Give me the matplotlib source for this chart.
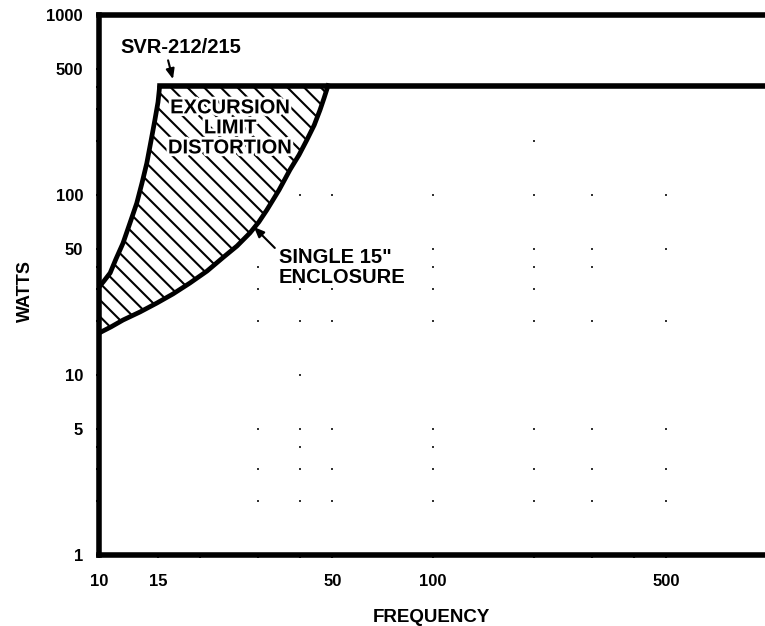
import matplotlib
matplotlib.use("Agg")
import matplotlib.pyplot as plt
import matplotlib.patheffects as pe

plt.rcParams['font.family'] = ['Liberation Sans', 'DejaVu Sans']
plt.rcParams['font.weight'] = 'bold'
plt.rcParams['hatch.linewidth'] = 1.5

# --- data ---
svr_freq = [10, 10.35, 10.8, 11.24, 11.8, 12.38, 12.97, 13.45, 13.9, 14.31,
            14.7, 15.02, 15.2]
svr_watts = [30.8, 33.3, 36.9, 44.1, 54, 69.9, 90, 116.6, 150, 199.5,
             261, 328, 405]

single_freq = [10, 10.86, 11.8, 13.27, 14.9, 16.65, 18.7, 21.06, 23.6, 25.9,
               28.3, 30.1, 31.8, 34.6, 37.3, 39.7, 41.9, 44.1, 45.9, 47.2, 48.5]
single_watts = [17.1, 18.5, 20.2, 22.4, 25.1, 28.2, 32.4, 37.8, 45.2, 52.1,
                61.5, 70.8, 82.5, 106.6, 138, 166.8, 202, 244.7, 297, 346, 405]

plateau_freq = [15.2, 1000]
plateau_watts = [405, 405]

x_ticks = [10, 15, 50, 100, 500]
x_tick_labels = ['10', '15', '50', '100', '500']
x_minor = [20, 30, 40, 200, 300, 400]
y_ticks = [1, 5, 10, 50, 100, 500, 1000]
y_tick_labels = ['1', '5', '10', '50', '100', '500', '1000']
y_minor = [2, 3, 4, 20, 30, 40, 200, 300, 400]

dot_f = [30, 40, 50, 100, 200, 300, 500,
         30, 40, 50, 100, 200, 300, 500,
         40, 100,
         30, 40, 50, 100, 200, 300, 500,
         40,
         30, 40, 50, 100, 200, 300, 500,
         30, 40, 50, 100, 200,
         30, 100, 200, 300,
         40, 50, 100, 200, 300, 500,
         40, 50, 100, 200, 300, 500,
         200]
dot_w = [2, 2, 2, 2, 2, 2, 2,
         3, 3, 3, 3, 3, 3, 3,
         4, 4,
         5, 5, 5, 5, 5, 5, 5,
         10,
         20, 20, 20, 20, 20, 20, 20,
         30, 30, 30, 30, 30,
         40, 40, 40, 40,
         50, 50, 50, 50, 50, 50,
         100, 100, 100, 100, 100, 100,
         200]

W, H = 765, 626
fig = plt.figure(figsize=(W / 100, H / 100), dpi=100)
ax = fig.add_axes([99 / W, 1 - 555 / H, (767 - 99) / W, 540 / H])
ax.set_xscale('log')
ax.set_yscale('log')
ax.set_xlim(10, 1000)
ax.set_ylim(1, 1000)

# grid dots
ax.plot(dot_f, dot_w, linestyle='none', marker='s', markersize=2.0,
        color='#333333', markeredgewidth=0)

# hatched region
poly_f = list(svr_freq) + list(single_freq[::-1])
poly_w = list(svr_watts) + list(single_watts[::-1])
ax.fill(poly_f, poly_w, facecolor='none', edgecolor='black', linewidth=0,
        hatch='\\\\')

lw = 3.4
ax.plot(svr_freq, svr_watts, color='black', lw=lw, solid_capstyle='butt',
        solid_joinstyle='round')
ax.plot(single_freq, single_watts, color='black', lw=lw,
        solid_joinstyle='round')
ax.plot(plateau_freq, plateau_watts, color='black', lw=4.0,
        solid_capstyle='projecting')

# spines
for s in ['left', 'top', 'bottom']:
    ax.spines[s].set_linewidth(4.0)
ax.spines['right'].set_visible(False)

ax.set_xticks(x_ticks)
ax.set_xticklabels(x_tick_labels)
ax.set_xticks(x_minor, minor=True)
ax.set_yticks(y_ticks)
ax.set_yticklabels(y_tick_labels)
ax.set_yticks(y_minor, minor=True)
ax.set_xticklabels([], minor=True)
ax.set_yticklabels([], minor=True)
ax.tick_params(which='both', direction='out', length=2, width=1.5)
ax.tick_params(axis='x', which='major', pad=12, labelsize=12)
ax.tick_params(axis='y', which='major', pad=9.5, labelsize=12)

# labels
fig.text(431 / W, 1 - 618 / H, 'FREQUENCY', ha='center', va='center',
         fontsize=13.5, fontweight='bold')
fig.text(25 / W, 1 - 291 / H, 'WATTS', ha='center', va='center',
         rotation=90, fontsize=13, fontweight='bold')

ax.text(17.6, 664, 'SVR-212/215', ha='center', va='center',
        fontsize=14.5, fontweight='bold')
ax.annotate('', xy=(16.65, 440), xytext=(16.1, 560),
            arrowprops=dict(arrowstyle='-|>,head_length=0.6,head_width=0.25',
                            color='black', lw=1.5, shrinkA=0, shrinkB=0))

ax.text(24.7, 236, 'EXCURSION\nLIMIT\nDISTORTION', ha='center', va='center',
        fontsize=14.5, fontweight='bold', linespacing=1.07,
        path_effects=[pe.withStroke(linewidth=4, foreground='white')])

ax.text(34.6, 39.5, 'SINGLE 15"\nENCLOSURE', ha='left', va='center',
        fontsize=14.5, fontweight='bold', linespacing=1.07)
ax.annotate('', xy=(29.1, 66.4), xytext=(33.6, 50.8),
            arrowprops=dict(arrowstyle='-|>,head_length=0.6,head_width=0.25',
                            color='black', lw=1.5, shrinkA=0, shrinkB=0))

fig.savefig('out.png', dpi=100)
